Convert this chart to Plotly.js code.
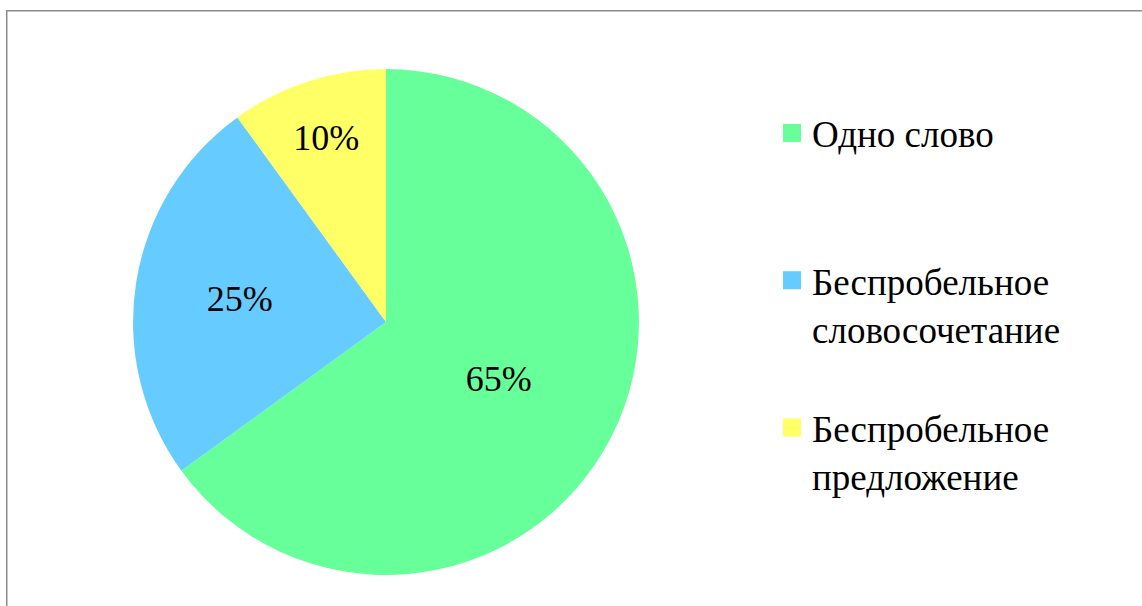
<!DOCTYPE html>
<html><head><meta charset="utf-8">
<script src="https://cdn.plot.ly/plotly-3.0.1.min.js"></script>
<style>
html,body{margin:0;padding:0;background:#fff;overflow:hidden;}
#chart{position:absolute;left:0;top:0;width:1142px;height:606px;}
#chart path.legendpie{transform:translate(20px,0px) scale(1.5);}
#note{position:absolute;left:700px;top:560px;font-size:14px;font-family:'DejaVu Sans Mono';color:#fff;}
</style></head>
<body>
<div id="chart"></div>
<div id="note"></div>
<script>
const labels = ["Одно слово", "Беспробельное<br>словосочетание", "Беспробельное<br>предложение"];
const values = [65, 25, 10];
const colors = ["#66FF99", "#66CCFF", "#FFFF66"];
// padding lines to space legend entries like the original
const legendLabels = [labels[0] + "<br> <br> ", labels[1] + "<br> ", labels[2]];
const FONT = "Liberation Serif";

const trace = {
  type: "pie",
  labels: legendLabels,
  values: values,
  sort: false,
  direction: "clockwise",
  marker: {colors: colors},
  textinfo: "percent",
  textfont: {family: FONT, size: 36, color: "#000"},
  domain: {x: [0.1165, 0.5595], y: [0.0512, 0.886]}
};

const layout = {
  width: 1142, height: 606,
  margin: {l: 0, r: 0, t: 0, b: 0},
  legend: {
    x: 0.676, xanchor: "left", y: 0.831, yanchor: "top",
    valign: "top",
    font: {family: FONT, size: 37, color: "#000"},
    bgcolor: "rgba(0,0,0,0)"
  },
  font: {family: FONT},
  shapes: [{
    type: "rect", xref: "paper", yref: "paper",
    x0: 0.0059, x1: 1.2, y0: -0.2, y1: 0.9823,
    line: {color: "#8a8a8a", width: 1.5},
    fillcolor: "rgba(0,0,0,0)", layer: "below"
  }]
};
Plotly.newPlot("chart", [trace], layout, {displayModeBar: false, staticPlot: true}).then(function(){
  const t = document.querySelector('text.legendtext');
  const s = document.querySelector('text.slicetext');
  const a = t ? getComputedStyle(t).fontFamily : '';
  const b = s ? getComputedStyle(s).fontFamily : '';
  document.getElementById('note').textContent = '\u00a0' + (a && b ? '' : '');
});
</script>
</body></html>
